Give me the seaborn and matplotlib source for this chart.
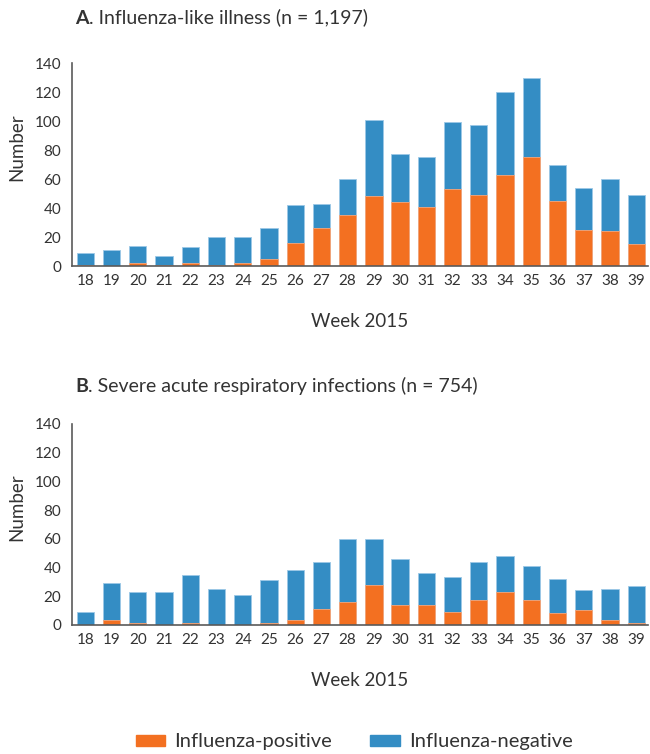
import matplotlib
matplotlib.use("Agg")
import matplotlib.pyplot as plt
import seaborn as sns
import numpy as np
from matplotlib.patches import Patch

# semanas epidemiologicas
weeks = [str(w) for w in range(18, 40)]

# A. ILI - totales y positivos
ili_total = [9, 11, 14, 7, 13, 20, 20, 26, 42, 43, 60, 101, 77, 75, 99, 97, 120, 130, 70, 54, 60, 49]
ili_pos = [1, 0, 2, 1, 2, 1, 2, 5, 16, 26, 35, 48, 44, 41, 53, 49, 63, 75, 45, 25, 24, 15]

# B. SARI - totales y positivos
sari_total = [9, 29, 23, 23, 35, 25, 21, 31, 38, 44, 60, 60, 46, 36, 33, 44, 48, 41, 32, 24, 25, 27]
sari_pos = [0, 3, 1, 0, 1, 0, 0, 1, 3, 11, 16, 28, 14, 14, 9, 17, 23, 17, 8, 10, 3, 1]

ORANGE = "#F37021"
BLUE = "#348DC4"
GREY = "#5a5a5a"
TXT = "#333333"

sns.set_style("white")
plt.rcParams["font.family"] = ["Lato", "DejaVu Sans"]


def draw_panel(ax, total, pos):
    sns.barplot(x=weeks, y=total, color=BLUE, saturation=1, width=0.66,
                edgecolor="#9cc8e6", linewidth=0.6, ax=ax)
    sns.barplot(x=weeks, y=pos, color=ORANGE, saturation=1, width=0.66,
                edgecolor="#f7a67a", linewidth=0.6, ax=ax)
    ax.set_xlim(-0.5, 21.45)
    ax.set_ylim(0, 140)
    ax.set_yticks(range(0, 141, 20))
    ax.set_xticks(range(len(weeks)))
    ax.set_xticklabels(weeks)
    ax.set_xticks(np.arange(0.5, 21), minor=True)
    ax.tick_params(axis="x", which="major", length=0, labelsize=11, colors=TXT, pad=6)
    ax.tick_params(axis="x", which="minor", length=5, width=1.2, color=GREY)
    ax.tick_params(axis="y", length=5, width=1.2, color=GREY, labelsize=11, labelcolor=TXT, pad=3)
    sns.despine(ax=ax)
    for s in ["left", "bottom"]:
        ax.spines[s].set_color(GREY)
        ax.spines[s].set_linewidth(1.2)
    ax.set_ylabel("Number", fontsize=13.5, color=TXT)
    ax.yaxis.set_label_coords(-0.081, 0.586)
    ax.set_xlabel("Week 2015", fontsize=13.5, color=TXT, labelpad=18)


def panel_title(fig, y, letter, rest):
    t = fig.text(0.1154, y, letter, fontsize=14, fontweight="bold", color=TXT, va="center")
    plt.annotate(rest, xy=(1, 0), xycoords=t, va="bottom", ha="left",
                 fontsize=14, color=TXT, annotation_clip=False)


fig = plt.figure(figsize=(6.5, 7.54), dpi=100)
ax1 = fig.add_axes([0.111, 0.6472, 0.886, 0.2692])
ax2 = fig.add_axes([0.111, 0.1714, 0.886, 0.2663])

draw_panel(ax1, ili_total, ili_pos)
draw_panel(ax2, sari_total, sari_pos)

panel_title(fig, 1 - 18 / 754, "A", ". Influenza-like illness (n = 1,197)")
panel_title(fig, 1 - 386 / 754, "B", ". Severe acute respiratory infections (n = 754)")

handles = [Patch(color=ORANGE, label="Influenza-positive"),
           Patch(color=BLUE, label="Influenza-negative")]
fig.legend(handles=handles, loc="center", bbox_to_anchor=(0.545, 1 - 742 / 754),
           ncol=2, frameon=False, fontsize=14.5, handlelength=1.45, handleheight=0.5,
           columnspacing=1.9, handletextpad=0.45, labelcolor=TXT)

fig.savefig("out.png", dpi=100)
